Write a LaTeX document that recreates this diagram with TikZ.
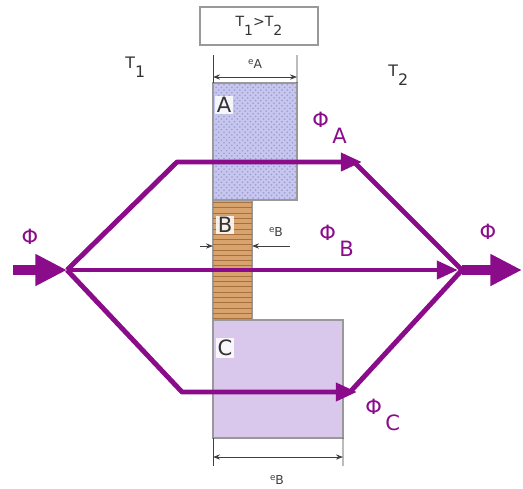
\documentclass[tikz,border=0pt]{standalone}
\usepackage{fontspec}
\setmainfont{DejaVu Sans}
\usepackage{tikz}
\usetikzlibrary{arrows.meta,patterns}
\definecolor{fluxc}{HTML}{8A0C8A}
\definecolor{colA}{HTML}{C6C6EE}
\definecolor{dotA}{HTML}{9A9AD0}
\definecolor{colB}{HTML}{D9A36E}
\definecolor{lineB}{HTML}{A8703E}
\definecolor{colC}{HTML}{DAC7EC}
\newcommand{\phisub}[1]{Φ\kern2pt\raisebox{-0.8em}{#1}}
\newcommand{\elbl}[1]{{\fontsize{5}{5}\selectfont e}\raisebox{-0.35em}{#1}}
\newcommand{\tsub}[1]{T\raisebox{-0.6em}{#1}}
\tikzset{
  flux/.style={draw=fluxc, line width=2.8pt, line join=round, -{Triangle[length=12pt,width=10pt]}},
  fluxline/.style={draw=fluxc, line width=2.8pt, line join=round},
  bigflux/.style={draw=fluxc, line width=5.7pt, -{Triangle[length=18pt,width=17pt]}},
  blk/.style={draw=gray!80, line width=0.6pt, inner sep=0pt, outer sep=0pt, anchor=north west},
  tag/.style={fill=white, fill opacity=0.85, text opacity=1, inner sep=1pt,
              font=\fontsize{12}{12}\selectfont, text=black!80},
  dim/.style={draw=black!75, line width=0.5pt},
  dimarr/.style={dim, {Stealth[length=4pt,width=3pt]}-{Stealth[length=4pt,width=3pt]}},
  dimtip/.style={dim, -{Stealth[length=4pt,width=3pt]}},
  philbl/.style={text=fluxc, font=\fontsize{12}{12}\selectfont, inner sep=0pt},
  templbl/.style={text=black!80, font=\fontsize{9}{9}\selectfont, inner sep=0pt},
  dimlbl/.style={text=black!75, font=\fontsize{7}{7}\selectfont, inner sep=0pt},
}
\begin{document}
\begin{tikzpicture}[x=0.02cm,y=-0.02cm]
  \useasboundingbox (0,0) rectangle (523,488);
  % wall layers
  \node[blk, fill=colA, postaction={pattern=crosshatch dots, pattern color=dotA},
        minimum width=1.68cm, minimum height=2.34cm] (blkA) at (213,83) {};
  \node[blk, fill=colB, postaction={pattern=horizontal lines, pattern color=lineB},
        minimum width=0.78cm, minimum height=2.40cm] (blkB) at (213,200) {};
  \node[blk, fill=colC, minimum width=2.60cm, minimum height=2.36cm] (blkC) at (213,320) {};
  \node[tag] (lblA) at (224,105) {A};
  \node[tag] (lblB) at (225,225) {B};
  \node[tag] (lblC) at (225,348) {C};
  % temperatures
  \node[draw=gray!80, line width=0.6pt, minimum width=2.36cm, minimum height=0.76cm,
        templbl, font=\fontsize{8}{8}\selectfont] (cond) at (259,26) {\tsub{1}>\tsub{2}};
  \node[templbl, anchor=base west] (t1) at (125,68) {\tsub{1}};
  \node[templbl, anchor=base west] (t2) at (388,76) {\tsub{2}};
  % thickness marks
  \coordinate (aT1) at (213,55);
  \coordinate (aT2) at (297,55);
  \coordinate (aL) at (213,77);
  \coordinate (aR) at (297,77);
  \draw[dim] (blkA.north west) -- (aT1);
  \draw[dim] (blkA.north east) -- (aT2);
  \draw[dimarr] (aL) -- (aR);
  \node[dimlbl] (eA) at (255,64) {\elbl{A}};
  \coordinate (bL0) at (200,246);
  \coordinate (bL) at (213,246);
  \coordinate (bR0) at (290,246);
  \coordinate (bR) at (252,246);
  \draw[dimtip] (bL0) -- (bL);
  \draw[dimtip] (bR0) -- (bR);
  \node[dimlbl] (eB) at (276,232) {\elbl{B}};
  \coordinate (cT1) at (213,466);
  \coordinate (cT2) at (343,466);
  \coordinate (cL) at (213,457);
  \coordinate (cR) at (343,457);
  \draw[dim] (blkC.south west) -- (cT1);
  \draw[dim] (blkC.south east) -- (cT2);
  \draw[dimarr] (cL) -- (cR);
  \node[dimlbl] (eC) at (277,480) {\elbl{B}};
  % heat flux paths
  \coordinate (src) at (13,270);
  \coordinate (split) at (67,270);
  \coordinate (merge) at (462,270);
  \coordinate (dst) at (522,270);
  \coordinate (up1) at (177,162);
  \coordinate (up2) at (362,162);
  \coordinate (up3) at (354,162);
  \coordinate (mid) at (458,270);
  \coordinate (lo1) at (182,392);
  \coordinate (lo2) at (357,392);
  \coordinate (lo3) at (350,392);
  \draw[bigflux] (src) -- (split);
  \draw[flux] (split) -- (up1) -- (up2);
  \draw[fluxline] (up3) -- (merge);
  \draw[flux] (split) -- (mid);
  \draw[flux] (split) -- (lo1) -- (lo2);
  \draw[fluxline] (lo3) -- (merge);
  \draw[bigflux] (merge) -- (dst);
  \node[philbl] (phiin) at (30,237) {Φ};
  \node[philbl] (phiout) at (488,232) {Φ};
  \node[philbl, anchor=base west] (phiA) at (312,127) {\phisub{A}};
  \node[philbl, anchor=base west] (phiB) at (319,240) {\phisub{B}};
  \node[philbl, anchor=base west] (phiC) at (365,414) {\phisub{C}};
\end{tikzpicture}
\end{document}
